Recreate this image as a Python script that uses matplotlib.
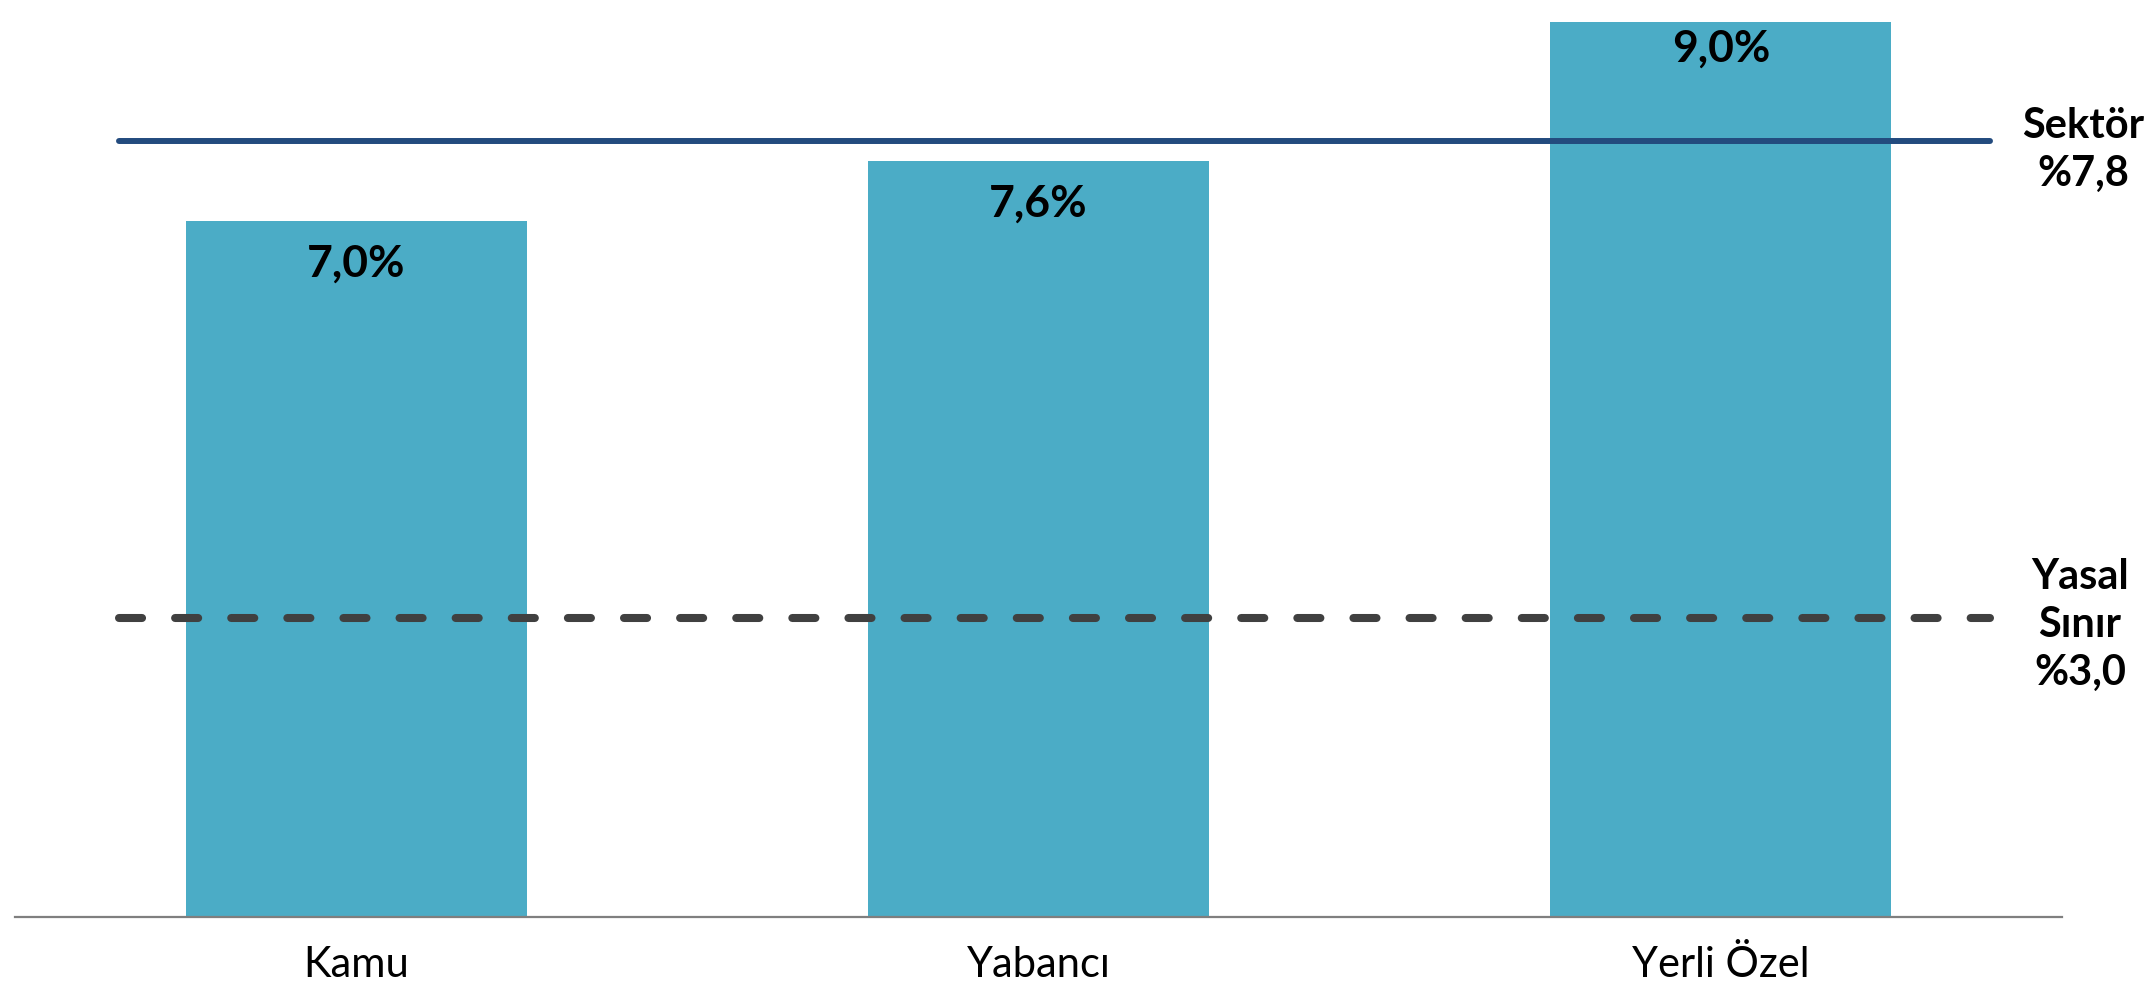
import matplotlib
matplotlib.use("Agg")
import matplotlib.pyplot as plt

categories = ["Kamu", "Yabancı", "Yerli Özel"]
values = [7.0, 7.6, 9.0]
value_labels = ["7,0%", "7,6%", "9,0%"]
sector_value = 7.8
sector_label = "Sektör\n%7,8"
legal_value = 3.0
legal_label = "Yasal\nSınır\n%3,0"

plt.rcParams['font.family'] = ['Lato', 'DejaVu Sans']
plt.rcParams['lines.scale_dashes'] = False

W, H, DPI = 2148, 999, 100
fig = plt.figure(figsize=(W / DPI, H / DPI), dpi=DPI)
ax = fig.add_axes([15 / W, 82.3 / H, 2047 / W, 915 / H])

bar_color = "#4BACC6"
x = list(range(len(categories)))
ax.bar(x, values, width=0.5, color=bar_color, zorder=2)

ax.set_xlim(-0.5, 2.5)
ax.set_ylim(0, 9.2)

# reference lines
ax.plot([-0.347, 2.394], [sector_value, sector_value], color="#234B7E",
        lw=4.3, solid_capstyle="round", zorder=3)
dl, = ax.plot([-0.347, 2.394], [legal_value, legal_value], color="#404040",
              lw=5.8, dash_capstyle="round", zorder=3)
dl.set_dashes((16.6, 23.8))

# value labels inside bars (offset in pixels below bar top)
label_offsets = [43, 43, 27]
for xi, v, lab, off in zip(x, values, value_labels, label_offsets):
    ax.annotate(lab, (xi, v), xytext=(0, -off * 72 / DPI), textcoords="offset points",
                ha="center", va="center", fontsize=32, fontweight="bold", color="black",
                zorder=4)

# right side labels
px = 72 / DPI
ax.annotate(sector_label, (2.5, sector_value), xytext=(21 * px, -9 * px),
            textcoords="offset points", ha="center", va="center", fontsize=30,
            fontweight="bold", linespacing=1.32, annotation_clip=False)
ax.annotate(legal_label, (2.5, legal_value), xytext=(18 * px, -7 * px),
            textcoords="offset points", ha="center", va="center", fontsize=30,
            fontweight="bold", linespacing=1.32, annotation_clip=False)

for s in ["top", "right", "left"]:
    ax.spines[s].set_visible(False)
ax.spines["bottom"].set_color("#7F7F7F")
ax.spines["bottom"].set_linewidth(1.6)
ax.spines["bottom"].set_zorder(5)
ax.set_yticks([])
ax.set_xticks(x)
ax.set_xticklabels(categories, fontsize=30)
ax.tick_params(axis="x", length=0, pad=21)

fig.savefig("out.png", dpi=DPI)
